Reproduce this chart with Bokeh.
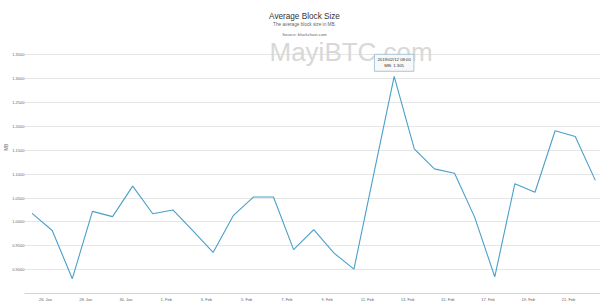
import pandas as pd
from bokeh.plotting import figure
from bokeh.models import ColumnDataSource, FixedTicker, Label, Range1d
from bokeh.embed import file_html
from bokeh.resources import INLINE

# ---- data ----
dates = ["2019-01-25 08:00", "2019-01-26 08:00", "2019-01-27 08:00", "2019-01-28 08:00",
         "2019-01-29 08:00", "2019-01-30 08:00", "2019-01-31 08:00", "2019-02-01 08:00",
         "2019-02-02 08:00", "2019-02-03 08:00", "2019-02-04 08:00", "2019-02-05 08:00",
         "2019-02-06 08:00", "2019-02-07 08:00", "2019-02-08 08:00", "2019-02-09 08:00",
         "2019-02-10 08:00", "2019-02-11 08:00", "2019-02-12 08:00", "2019-02-13 08:00",
         "2019-02-14 08:00", "2019-02-15 08:00", "2019-02-16 08:00", "2019-02-17 08:00",
         "2019-02-18 08:00", "2019-02-19 08:00", "2019-02-20 08:00", "2019-02-21 08:00",
         "2019-02-22 08:00"]
block_size_mb = [1.018, 0.982, 0.881, 1.022, 1.011, 1.075, 1.017, 1.025, 0.981, 0.936,
                 1.013, 1.052, 1.052, 0.942, 0.984, 0.935, 0.901, 1.103, 1.305, 1.153,
                 1.111, 1.102, 1.010, 0.885, 1.080, 1.062, 1.191, 1.179, 1.087]

x_tick_dates = ["2019-01-26", "2019-01-28", "2019-01-30", "2019-02-01", "2019-02-03",
                "2019-02-05", "2019-02-07", "2019-02-09", "2019-02-11", "2019-02-13",
                "2019-02-15", "2019-02-17", "2019-02-19", "2019-02-21"]
x_tick_labels = ["26. Jan", "28. Jan", "30. Jan", "1. Feb", "3. Feb", "5. Feb", "7. Feb",
                 "9. Feb", "11. Feb", "13. Feb", "15. Feb", "17. Feb", "19. Feb", "21. Feb"]
y_ticks = [0.90, 0.95, 1.00, 1.05, 1.10, 1.15, 1.20, 1.25, 1.30, 1.35]
y_tick_labels = ["0.9000", "0.9500", "1.0000", "1.0500", "1.1000", "1.1500",
                 "1.2000", "1.2500", "1.3000", "1.3500"]

title_text = "Average Block Size"
subtitle_text = "The average block size in MB."
source_text = "Source: blockchain.com"
watermark_text = "MayiBTC.com"
y_title = "MB"

FONT = "Liberation Sans"

# layout constants (pixels)
FL, FB = 24, 293          # frame left / frame bottom in canvas pixels
PLOT_TOP_PX = 54.3        # canvas y of the top gridline (y = 1.35)
Y_MIN, Y_MAX = 0.85, 1.35
per_px = (Y_MAX - Y_MIN) / (FB - PLOT_TOP_PX)
y_end = Y_MIN + FB * per_px  # frame extends up to canvas top


def ms(s):
    return pd.Timestamp(s).value // 10**6


ts = pd.to_datetime(dates)
src = ColumnDataSource(dict(x=ts, y=block_size_mb))

p = figure(width=600, height=307, x_axis_type="datetime",
           output_backend="svg", toolbar_location=None,
           min_border_left=FL, min_border_right=0, min_border_top=0,
           min_border_bottom=307 - FB,
           x_range=Range1d(ms("2019-01-24 22:57"), ms("2019-02-22 14:10")),
           y_range=Range1d(Y_MIN, y_end))
p.outline_line_color = None
p.background_fill_color = "white"
p.border_fill_color = "white"

for ax in (p.xaxis[0], p.yaxis[0]):
    ax.major_tick_out = 0
    ax.major_tick_in = 0
    ax.minor_tick_out = 0
    ax.minor_tick_in = 0
    ax.major_tick_line_color = None
    ax.minor_tick_line_color = None
    ax.major_label_text_font = FONT
    ax.major_label_text_font_size = "4px"
    ax.major_label_text_color = "#666666"

# x axis
xt = [ms(d) for d in x_tick_dates]
p.xaxis.ticker = FixedTicker(ticks=xt)
p.xaxis.major_label_overrides = {t: l for t, l in zip(xt, x_tick_labels)}
p.xaxis.major_label_standoff = 3
p.xaxis.axis_line_color = "#ccd6eb"
p.xgrid.grid_line_color = None

# y axis
p.yaxis.ticker = FixedTicker(ticks=y_ticks)
p.yaxis.major_label_overrides = {t: l for t, l in zip(y_ticks, y_tick_labels)}
p.yaxis.major_label_standoff = 0
p.yaxis.axis_line_color = None
p.yaxis.axis_label = y_title
p.yaxis.axis_label_text_font = FONT
p.yaxis.axis_label_text_font_size = "4.5px"
p.yaxis.axis_label_text_font_style = "normal"
p.yaxis.axis_label_text_color = "#666666"
p.yaxis.axis_label_standoff = 0
p.ygrid.grid_line_color = "#e6e6e6"
p.ygrid.grid_line_width = 1


def scr(cx, cy):
    return cx - FL, FB - cy


# watermark (behind the line)
wx, wy = scr(269, 51)
p.add_layout(Label(x=wx, y=wy, x_units="screen", y_units="screen", text=watermark_text,
                   text_font=FONT, text_font_size="26px", text_color="#d8d8d8",
                   text_align="left", text_baseline="alphabetic", level="underlay"))

p.line("x", "y", source=src, line_color="#4a9fc8", line_width=1.1)

# titles
for txt, cx, cy, size, color in [
    (title_text, 304, 16, "8.2px", "#333333"),
    (subtitle_text, 304, 24, "4.7px", "#666666"),
    (source_text, 304, 33.5, "4.2px", "#666666"),
]:
    sx, sy = scr(cx, cy)
    p.add_layout(Label(x=sx, y=sy, x_units="screen", y_units="screen", text=txt,
                       text_font=FONT, text_font_size=size, text_color=color,
                       text_align="center", text_baseline="middle"))

# tooltip at the peak
i_max = max(range(len(block_size_mb)), key=lambda i: block_size_mb[i])
peak_t = ts[i_max]
tip = f"{peak_t.strftime('%Y/%m/%d %H:%M')}\n{y_title}: {block_size_mb[i_max]:.3f}"
p.add_layout(Label(x=ms(peak_t), y=block_size_mb[i_max], text=tip,
                   text_font=FONT, text_font_size="4.3px", text_color="#333333",
                   text_align="center", text_baseline="bottom", y_offset=5,
                   background_fill_color="#f7f7f7", background_fill_alpha=0.9,
                   border_line_color="#8fbcd4", border_line_width=0.8,
                   padding=3))

open("out.html", "w").write(file_html(p, INLINE))
